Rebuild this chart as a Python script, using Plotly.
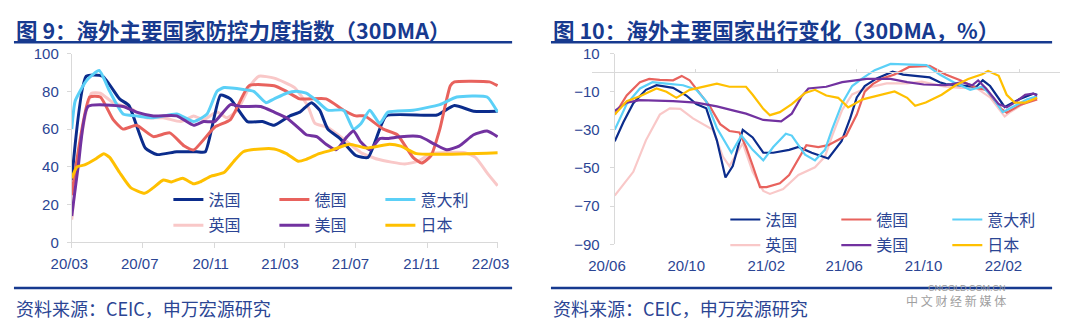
import plotly.graph_objects as go

# ---------------- data ----------------
names = ["法国", "德国", "意大利", "英国", "美国", "日本"]
colors = ["#0B2C8C", "#E8625D", "#5BD0F7", "#F9C8C8", "#7232A0", "#FFC000"]

left_title = "图 9：海外主要国家防控力度指数（30DMA）"
right_title = "图 10：海外主要国家出行变化（30DMA，%）"
source_text = "资料来源：CEIC，申万宏源研究"

left_tickvals = ["2020-03-01", "2020-07-01", "2020-11-01", "2021-03-01", "2021-07-01", "2021-11-01", "2022-03-01"]
left_ticktext = ["20/03", "20/07", "20/11", "21/03", "21/07", "21/11", "22/03"]
right_tickvals = ["2020-06-01", "2020-10-01", "2021-02-01", "2021-06-01", "2021-10-01", "2022-02-01"]
right_ticktext = ["20/06", "20/10", "21/02", "21/06", "21/10", "22/02"]
left_yticks = [0, 20, 40, 60, 80, 100]
right_yticks = [-90, -70, -50, -30, -10, 10]

fr_l_x = ["2020-03-01", "2020-03-26", "2020-04-23", "2020-05-22", "2020-06-07", "2020-07-05", "2020-07-25", "2020-08-28", "2020-10-01", "2020-10-16", "2020-11-11", "2020-11-28", "2020-12-27", "2021-01-22", "2021-02-11", "2021-03-10", "2021-03-27", "2021-04-16", "2021-04-30", "2021-05-14", "2021-06-04", "2021-07-01", "2021-07-22", "2021-08-05", "2021-08-22", "2021-11-17", "2021-12-17", "2022-01-19", "2022-03-01"]
fr_l_y = [33, 88, 88, 76, 72.5, 50, 46.5, 48, 48, 48, 78, 76, 64, 64, 62, 67, 69, 74, 70, 60, 55, 46, 45, 55, 67, 67.5, 72.5, 69.5, 69.5]

de_l_x = ["2020-03-01", "2020-04-01", "2020-04-19", "2020-05-11", "2020-05-28", "2020-06-20", "2020-07-19", "2020-08-16", "2020-09-10", "2020-09-26", "2020-11-01", "2020-11-28", "2020-12-30", "2021-02-11", "2021-03-04", "2021-03-27", "2021-05-11", "2021-06-10", "2021-07-01", "2021-07-16", "2021-08-17", "2021-09-10", "2021-10-07", "2021-10-22", "2021-11-07", "2021-11-22", "2021-12-10", "2021-12-17", "2022-02-15", "2022-03-01"]
de_l_y = [25, 77, 77, 65, 60, 62, 56, 58, 51, 49, 61, 65, 83, 83, 80, 76, 76, 70, 67, 67, 60, 57, 45, 42, 46, 60, 83, 85, 85, 83]

it_l_x = ["2020-03-01", "2020-03-07", "2020-03-27", "2020-04-17", "2020-05-05", "2020-05-28", "2020-06-20", "2020-07-19", "2020-08-28", "2020-09-26", "2020-10-19", "2020-11-05", "2020-11-17", "2020-12-20", "2021-01-07", "2021-01-28", "2021-02-11", "2021-03-04", "2021-03-21", "2021-04-07", "2021-04-25", "2021-05-14", "2021-06-10", "2021-06-27", "2021-07-10", "2021-07-25", "2021-08-11", "2021-08-25", "2021-10-07", "2021-11-22", "2021-12-21", "2022-02-11", "2022-03-01"]
it_l_y = [60, 75, 86, 91, 80, 68, 67, 66, 68, 64, 68, 80, 82, 81, 80, 74, 76, 79, 80, 79, 75, 70, 70, 60, 63, 70, 63, 69, 70, 73, 77, 77, 69]

uk_l_x = ["2020-03-01", "2020-03-14", "2020-04-04", "2020-04-19", "2020-05-11", "2020-06-10", "2020-07-07", "2020-08-05", "2020-09-04", "2020-09-26", "2020-10-13", "2020-11-05", "2020-11-22", "2020-12-10", "2021-01-01", "2021-01-16", "2021-02-11", "2021-03-18", "2021-04-10", "2021-04-22", "2021-05-13", "2021-06-13", "2021-07-10", "2021-08-08", "2021-09-23", "2021-10-16", "2021-11-07", "2022-01-04", "2022-01-22", "2022-02-13", "2022-03-01"]
uk_l_y = [12, 50, 79, 79, 74, 71, 66, 66, 64, 67, 65, 69, 66, 70, 83, 88, 87, 82, 72, 63, 61, 54, 47.5, 44, 41.5, 43, 47, 47.5, 45, 36, 30]

us_l_x = ["2020-03-01", "2020-03-12", "2020-03-29", "2020-05-28", "2020-06-20", "2020-07-19", "2020-08-28", "2020-09-26", "2020-10-13", "2020-11-01", "2020-11-28", "2020-12-16", "2021-01-19", "2021-02-11", "2021-03-04", "2021-03-27", "2021-04-07", "2021-04-25", "2021-05-11", "2021-05-28", "2021-06-16", "2021-06-27", "2021-07-10", "2021-07-25", "2021-08-11", "2021-08-25", "2021-09-16", "2021-10-19", "2021-11-13", "2021-12-04", "2021-12-25", "2022-01-19", "2022-02-11", "2022-03-01"]
us_l_y = [14, 40, 72, 72, 69, 67, 67, 62, 64, 64, 73, 72, 72, 69, 66, 60, 57, 56, 52, 49, 56, 59, 53, 49, 55, 55, 56, 56, 52, 49, 51, 57, 59, 56]

jp_l_x = ["2020-03-01", "2020-03-10", "2020-03-23", "2020-04-10", "2020-04-25", "2020-05-05", "2020-05-22", "2020-06-10", "2020-07-04", "2020-07-19", "2020-08-05", "2020-08-19", "2020-09-07", "2020-09-26", "2020-10-07", "2020-10-25", "2020-11-17", "2020-12-04", "2020-12-20", "2021-01-19", "2021-02-11", "2021-03-04", "2021-03-24", "2021-04-07", "2021-04-29", "2021-05-22", "2021-06-20", "2021-07-19", "2021-08-28", "2021-09-16", "2021-10-13", "2022-03-01"]
jp_l_y = [34, 40, 41, 44, 47, 45, 37, 29, 26, 29, 33, 32, 34, 31, 32, 35, 37, 43, 48, 49.5, 49.5, 47, 43, 44, 47, 49, 52, 50, 52, 51, 47, 47.5]

fr_r_x = ["2020-06-01", "2020-06-14", "2020-06-29", "2020-07-18", "2020-08-03", "2020-08-28", "2020-09-17", "2020-10-02", "2020-10-17", "2020-11-02", "2020-11-15", "2020-11-26", "2020-12-11", "2020-12-26", "2021-01-11", "2021-01-26", "2021-02-19", "2021-03-05", "2021-03-25", "2021-04-14", "2021-04-19", "2021-05-09", "2021-05-22", "2021-06-01", "2021-06-13", "2021-07-01", "2021-07-25", "2021-08-10", "2021-09-19", "2021-10-04", "2021-10-13", "2021-11-28", "2021-12-08", "2021-12-19", "2022-01-10", "2022-02-01", "2022-02-22", "2022-02-28"]
fr_r_y = [-36, -26, -16, -9, -6.6, -8, -12, -16.5, -18.7, -35.5, -55, -49, -30, -34, -42, -42, -40.5, -39, -42, -44.6, -45, -36, -24, -13, -7, -3, 0.5, -1, -2.5, -5, -6, -7.5, -4, -7, -18, -14, -11, -11.6]

de_r_x = ["2020-06-01", "2020-06-19", "2020-07-09", "2020-07-23", "2020-08-08", "2020-08-28", "2020-09-10", "2020-09-22", "2020-10-07", "2020-10-22", "2020-11-07", "2020-11-21", "2020-12-06", "2020-12-16", "2020-12-26", "2021-01-06", "2021-01-16", "2021-02-05", "2021-02-19", "2021-03-05", "2021-03-17", "2021-04-04", "2021-04-19", "2021-05-16", "2021-06-01", "2021-06-13", "2021-06-25", "2021-07-10", "2021-07-28", "2021-08-19", "2021-09-19", "2021-10-13", "2021-11-04", "2021-11-28", "2021-12-13", "2021-12-22", "2022-01-05", "2022-01-13", "2022-02-02", "2022-02-28"]
de_r_y = [-22, -12, -5, -3.3, -3.8, -4, -1.7, -4, -10.7, -17.4, -27, -30.6, -31.4, -39, -48.8, -60, -60, -58, -53.7, -45.5, -38, -39, -38, -33, -22, -10, -6, -3, -1, 3, 3.5, -1, -4, -8, -9, -13, -19, -21, -17, -14]

it_r_x = ["2020-06-01", "2020-06-19", "2020-07-09", "2020-07-28", "2020-08-18", "2020-09-12", "2020-10-02", "2020-10-17", "2020-11-02", "2020-11-24", "2020-12-09", "2020-12-26", "2021-01-11", "2021-01-26", "2021-02-14", "2021-02-23", "2021-03-15", "2021-03-30", "2021-04-14", "2021-04-25", "2021-05-10", "2021-05-25", "2021-06-10", "2021-06-28", "2021-07-22", "2021-09-14", "2021-10-04", "2021-10-25", "2021-11-19", "2021-12-07", "2021-12-22", "2022-01-07", "2022-01-22", "2022-02-13", "2022-02-28"]
it_r_y = [-30, -16.5, -8.3, -5, -5.8, -6.6, -9, -15, -29, -42, -33, -40.5, -46, -39, -32, -33, -43, -46, -40.5, -29.5, -16, -7, -2.9, 1.3, 4.6, 4, -1, -5, -9, -7.4, -12.4, -20.7, -18, -14, -12.4]

uk_r_x = ["2020-06-01", "2020-06-29", "2020-07-18", "2020-08-08", "2020-08-23", "2020-09-08", "2020-09-27", "2020-10-12", "2020-10-27", "2020-11-11", "2020-11-21", "2020-12-11", "2020-12-26", "2021-01-11", "2021-01-21", "2021-02-10", "2021-03-05", "2021-03-30", "2021-04-14", "2021-04-25", "2021-05-10", "2021-05-25", "2021-06-16", "2021-07-16", "2021-08-16", "2021-09-07", "2021-10-10", "2021-11-04", "2021-11-28", "2021-12-19", "2022-01-10", "2022-01-19", "2022-02-07", "2022-02-28"]
uk_r_y = [-64.5, -52, -35.5, -22, -18.7, -19, -24, -27, -30, -44, -49, -37, -52, -62, -63.6, -61, -53.7, -49.6, -44, -33, -19.5, -11.4, -8, -5.6, -5.6, -4.7, -7.2, -8, -8, -13, -23, -20.5, -16.4, -13]

us_r_x = ["2020-06-01", "2020-06-19", "2020-07-09", "2020-08-28", "2020-10-02", "2020-11-02", "2020-11-26", "2020-12-16", "2021-01-11", "2021-02-07", "2021-02-23", "2021-03-10", "2021-03-20", "2021-04-16", "2021-05-10", "2021-06-16", "2021-07-22", "2021-08-16", "2021-09-10", "2021-10-13", "2021-11-07", "2021-11-22", "2021-12-01", "2021-12-13", "2022-01-01", "2022-01-13", "2022-01-25", "2022-02-10", "2022-02-22", "2022-02-28"]
us_r_y = [-20, -15.7, -14.4, -14.9, -15.7, -17.7, -19.8, -21.5, -24.8, -25.6, -21.5, -12.4, -8.3, -7.4, -5, -3.3, -3.3, -5, -6.2, -6.6, -5, -6.6, -4.1, -8.3, -16.5, -18.2, -15.7, -11.6, -11, -12]

jp_r_x = ["2020-06-01", "2020-06-19", "2020-07-09", "2020-08-03", "2020-08-18", "2020-09-02", "2020-09-22", "2020-10-17", "2020-11-02", "2020-11-21", "2020-12-16", "2020-12-26", "2021-01-11", "2021-01-21", "2021-02-05", "2021-02-23", "2021-03-15", "2021-03-30", "2021-04-16", "2021-05-04", "2021-05-19", "2021-06-10", "2021-06-29", "2021-07-28", "2021-08-16", "2021-08-28", "2021-09-13", "2021-10-07", "2021-10-28", "2021-11-16", "2021-12-07", "2021-12-16", "2022-01-01", "2022-01-13", "2022-01-25", "2022-02-10", "2022-02-28"]
jp_r_y = [-22, -15, -12.4, -8.3, -10, -13.2, -9, -7, -5.8, -7.4, -7.4, -11.6, -19, -22.3, -20.7, -16.5, -10.7, -9, -12, -13.2, -18.2, -14, -12.4, -9.9, -13.2, -17.4, -15.7, -11.6, -6.6, -3.3, -0.8, 0.9, -1.6, -11.6, -15.7, -15.7, -13.2]

left_series = [(fr_l_x, fr_l_y), (de_l_x, de_l_y), (it_l_x, it_l_y), (uk_l_x, uk_l_y), (us_l_x, us_l_y), (jp_l_x, jp_l_y)]
right_series = [(fr_r_x, fr_r_y), (de_r_x, de_r_y), (it_r_x, it_r_y), (uk_r_x, uk_r_y), (us_r_x, us_r_y), (jp_r_x, jp_r_y)]

# ---------------- style ----------------
W, H = 1080, 331
NAVY = "#173A8F"
TXT = "#2B4594"
GRID = "#D9D9D9"
FONT = "Liberation Sans, Arial, Noto Sans CJK SC, sans-serif"
CJK = "Noto Sans CJK SC, sans-serif"


def px(x):
    return x / W


def py(y):
    return (H - y) / H


fig = go.Figure()

draw_order = [3, 0, 1, 2, 4, 5]
for i in draw_order:
    xs, ys = left_series[i]
    fig.add_trace(go.Scatter(
        x=xs, y=ys, name=names[i], mode="lines",
        line=dict(color=colors[i], width=3, shape="spline", smoothing=0.5),
        xaxis="x", yaxis="y",
        legend="legend" if i < 3 else "legend2",
        legendrank=i, hoverinfo="skip"))
for i in draw_order:
    xs, ys = right_series[i]
    fig.add_trace(go.Scatter(
        x=xs, y=ys, name=names[i], mode="lines",
        line=dict(color=colors[i], width=2.2),
        xaxis="x2", yaxis="y2",
        legend="legend3" if i < 3 else "legend4",
        legendrank=i, hoverinfo="skip"))

fig.add_trace(go.Scatter(x=[left_tickvals[0]], y=[None], xaxis="x3", yaxis="y", showlegend=False, hoverinfo="skip"))
fig.add_trace(go.Scatter(x=[right_tickvals[0]], y=[None], xaxis="x4", yaxis="y2", showlegend=False, hoverinfo="skip"))
fig.add_trace(go.Scatter(x=[right_tickvals[0]], y=[None], xaxis="x5", yaxis="y2", showlegend=False, hoverinfo="skip"))

L_dom = [px(68), px(496)]
R_dom = [px(613), px(1039)]

axis_font = dict(family=FONT, size=15, color=TXT)

fig.update_layout(
    width=W, height=H, margin=dict(l=0, r=0, t=0, b=0),
    paper_bgcolor="white", plot_bgcolor="rgba(0,0,0,0)",
    font=dict(family=FONT, color=TXT),
    xaxis=dict(domain=L_dom, type="date", range=["2020-03-01", "2022-03-02"],
               tickvals=left_tickvals, showticklabels=False, ticks="outside", ticklen=5,
               tickcolor=GRID, showline=True, linecolor=GRID, linewidth=1, showgrid=False, zeroline=False,
               anchor="y"),
    yaxis=dict(domain=[py(246), py(47)], range=[0, 100], tickvals=left_yticks,
               ticks="outside", ticklen=4, tickcolor=GRID, showline=True, linecolor=GRID, linewidth=1,
               showgrid=False, zeroline=False, tickfont=axis_font, anchor="x", ticklabelstandoff=5),
    xaxis3=dict(domain=[px(50), px(510)], anchor="free", position=py(246), type="date",
                range=["2020-02-03 02:00", "2022-04-07 05:00"],
                tickvals=left_tickvals, ticktext=left_ticktext, showline=False, ticks="",
                showgrid=False, zeroline=False, tickfont=axis_font, ticklabelstandoff=11),
    xaxis2=dict(domain=R_dom, type="date", range=["2020-06-01", "2022-03-03"],
                showticklabels=False, ticks="", showline=False, showgrid=False, zeroline=False,
                anchor="y2"),
    yaxis2=dict(domain=[py(248), py(47)], range=[-90, 10], tickvals=right_yticks,
                ticks="outside", ticklen=4, tickcolor=GRID, showline=True, linecolor=GRID, linewidth=1,
                showgrid=False, zeroline=True, zerolinecolor=GRID, zerolinewidth=1,
                tickfont=axis_font, anchor="x2", ticklabelstandoff=7),
    xaxis4=dict(domain=[px(590), px(1060)], anchor="free", position=py(248), type="date",
                range=["2020-05-08 15:00", "2022-04-29 05:00"],
                tickvals=right_tickvals, ticktext=right_ticktext, showline=False, ticks="",
                showgrid=False, zeroline=False, tickfont=axis_font, ticklabelstandoff=11),
    xaxis5=dict(overlaying="x2", anchor="free", position=py(67), side="top", type="date",
                range=["2020-06-01", "2022-03-03"], tickvals=right_tickvals, showticklabels=False,
                ticks="outside", ticklen=4, tickcolor=GRID, showline=False, showgrid=False, zeroline=False),
    showlegend=True,
)

leg_common = dict(orientation="h", xanchor="left", yanchor="middle", bgcolor="rgba(0,0,0,0)",
                  font=dict(family=CJK, size=16, color=TXT), entrywidthmode="pixels",
                  itemclick=False, itemdoubleclick=False, tracegroupgap=0)
fig.update_layout(
    legend=dict(x=px(165), y=py(201), entrywidth=61, **leg_common),
    legend2=dict(x=px(165), y=py(228), entrywidth=61, **leg_common),
    legend3=dict(x=px(724), y=py(222), entrywidth=66, **leg_common),
    legend4=dict(x=px(724), y=py(249), entrywidth=66, **leg_common),
)

for x0, x1, title in [(10, 510, left_title), (549, 1052, right_title)]:
    fig.add_annotation(xref="paper", yref="paper", x=px(x0), y=py(22), xanchor="left", yanchor="middle",
                       text=title, showarrow=False,
                       font=dict(family=CJK, size=21.5, color=NAVY, weight="bold"))
    fig.add_annotation(xref="paper", yref="paper", x=px(x0), y=py(315), xanchor="left", yanchor="middle",
                       text=source_text, showarrow=False,
                       font=dict(family=CJK, size=18, color=TXT))
    for yy in (35, 294):
        fig.add_shape(type="line", xref="paper", yref="paper", x0=px(x0), x1=px(x1), y0=py(yy), y1=py(yy),
                      line=dict(color=NAVY, width=2.5))

fig.add_annotation(xref="paper", yref="paper", x=px(1008), y=py(302), text="CNGOLD.COM.CN", showarrow=False,
                   font=dict(family=FONT, size=9, color="#9A9A9A"))
fig.add_annotation(xref="paper", yref="paper", x=px(1008), y=py(318), text="中 文 财 经 新 媒 体", showarrow=False,
                   font=dict(family=CJK, size=12, color="#A0A0A0"))

fig.write_html("out.html")
